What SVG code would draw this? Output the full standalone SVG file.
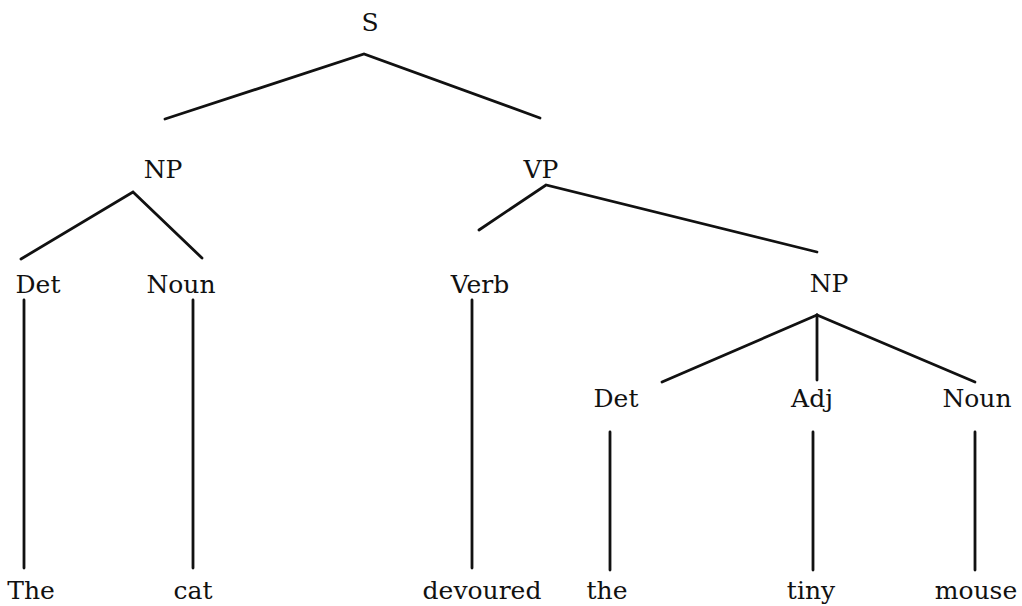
<svg xmlns="http://www.w3.org/2000/svg" width="1022" height="606" viewBox="0 0 1022 606">
  <style>
    .lbl { font-family: "DejaVu Serif", "Liberation Serif", serif; font-size: 25px; fill: #111; text-anchor: middle; }
    .edge { stroke: #111; stroke-width: 2.8; fill: none; stroke-linecap: round; }
  </style>
  <rect width="1022" height="606" fill="#ffffff"/>
  <g id="connectors">
    <polyline class="edge" points="165,119 364,54 540,118"/>
    <polyline class="edge" points="21,259 133,192 202,258"/>
    <polyline class="edge" points="479,230 546,185 817,252"/>
    <line class="edge" x1="817" y1="315" x2="662" y2="382"/>
    <line class="edge" x1="817" y1="315" x2="817" y2="380"/>
    <line class="edge" x1="817" y1="315" x2="975" y2="382"/>
    <line class="edge" x1="24" y1="300" x2="24" y2="568"/>
    <line class="edge" x1="193" y1="300" x2="193" y2="568"/>
    <line class="edge" x1="472" y1="300" x2="472" y2="568"/>
    <line class="edge" x1="610" y1="432" x2="610" y2="570"/>
    <line class="edge" x1="813" y1="432" x2="813" y2="570"/>
    <line class="edge" x1="975" y1="432" x2="975" y2="570"/>
  </g>
  <g id="node-S"><text class="lbl" x="370" y="31">S</text></g>
  <g id="node-NP1"><text class="lbl" x="163" y="178">NP</text></g>
  <g id="node-VP"><text class="lbl" x="541" y="178">VP</text></g>
  <g id="node-Det1"><text class="lbl" x="38" y="293">Det</text></g>
  <g id="node-Noun1"><text class="lbl" x="181" y="293">Noun</text></g>
  <g id="node-Verb"><text class="lbl" x="480" y="293">Verb</text></g>
  <g id="node-NP2"><text class="lbl" x="829" y="292">NP</text></g>
  <g id="node-Det2"><text class="lbl" x="616" y="407">Det</text></g>
  <g id="node-Adj"><text class="lbl" x="812" y="407">Adj</text></g>
  <g id="node-Noun2"><text class="lbl" x="977" y="407">Noun</text></g>
  <g id="word-The"><text class="lbl" x="31" y="599">The</text></g>
  <g id="word-cat"><text class="lbl" x="193" y="599">cat</text></g>
  <g id="word-devoured"><text class="lbl" x="482" y="599">devoured</text></g>
  <g id="word-the"><text class="lbl" x="607" y="599">the</text></g>
  <g id="word-tiny"><text class="lbl" x="811" y="599">tiny</text></g>
  <g id="word-mouse"><text class="lbl" x="976" y="599">mouse</text></g>
</svg>
